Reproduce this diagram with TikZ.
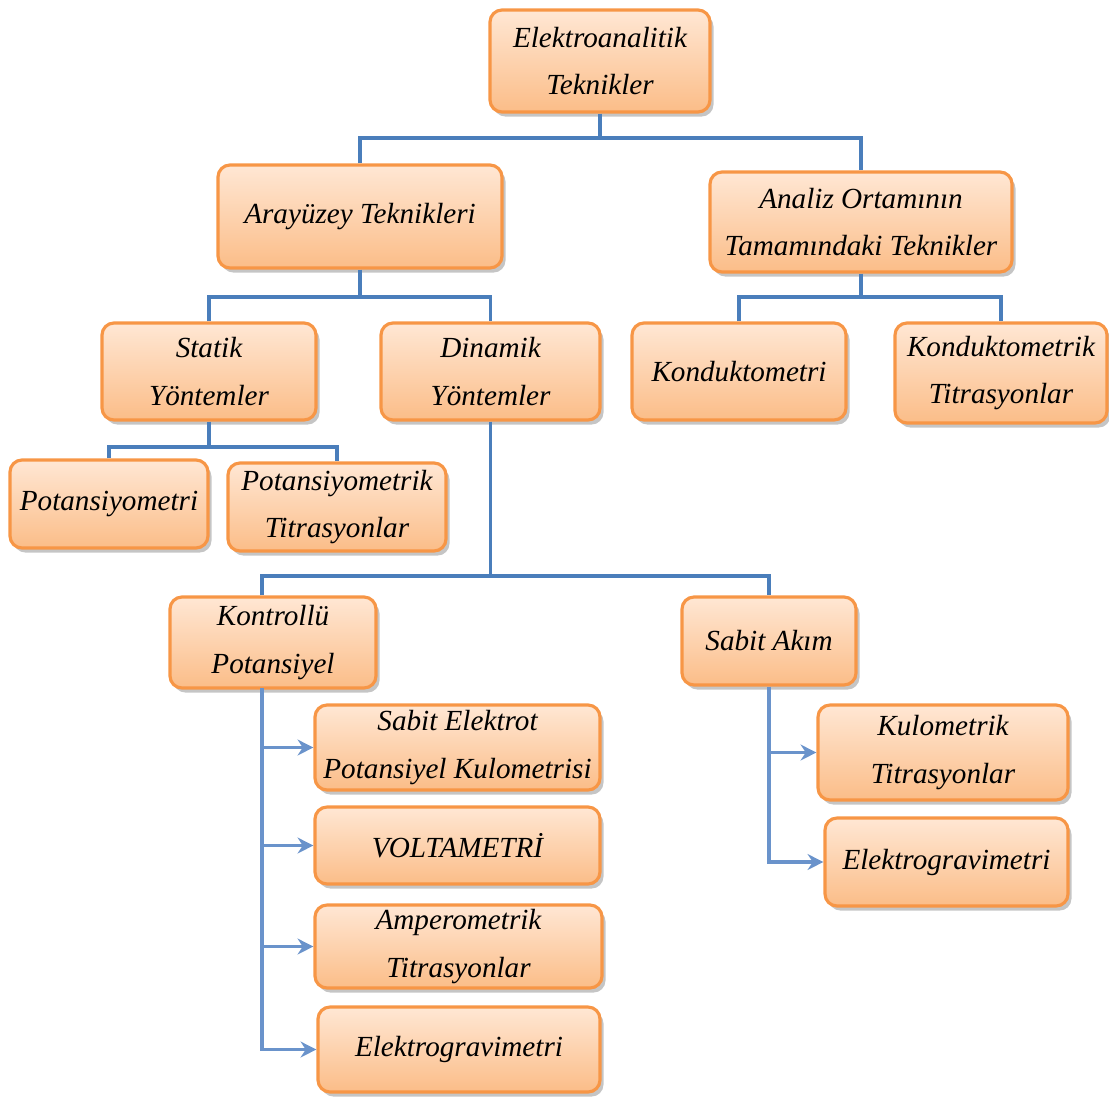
\documentclass[tikz,border=0pt]{standalone}
\usepackage{fontspec}
\setmainfont{Liberation Serif}
\usetikzlibrary{shadows,arrows.meta}

\definecolor{boxline}{HTML}{F79646}
\definecolor{boxtop}{HTML}{FFE7D4}
\definecolor{boxbot}{HTML}{FBBD88}
\definecolor{linkblue}{HTML}{4A7EBB}
\definecolor{arrowblue}{HTML}{6A93CB}

\begin{document}
\begin{tikzpicture}[
    box/.style={draw=boxline, line width=0.9pt, rounded corners=0.12cm,
      top color=boxtop, bottom color=boxbot, inner sep=0pt, align=center,
      drop shadow={shadow xshift=1pt, shadow yshift=-1.3pt, fill=black!45, opacity=0.5},
      font=\itshape\fontsize{8.3}{13.5}\selectfont},
    link/.style={draw=linkblue, line width=0.9pt},
    arr/.style={draw=arrowblue, line width=0.9pt, -{Stealth[length=4.5pt,width=4.5pt]}}]
  \useasboundingbox (0,0) rectangle (11.09,-10.97);

  \node [box, minimum width=2.20cm, minimum height=1.02cm] (elektro) at (6.00,-0.61) {Elektroanalitik\\Teknikler};

  \node [box, minimum width=2.84cm, minimum height=1.03cm] (arayuzey) at (3.60,-2.165) {Arayüzey Teknikleri};
  \node [box, minimum width=3.02cm, minimum height=1.00cm] (analiz) at (8.61,-2.22) {Analiz Ortamının\\Tamamındaki Teknikler};

  \node [box, minimum width=2.14cm, minimum height=0.97cm] (statik) at (2.09,-3.715) {Statik\\Yöntemler};
  \node [box, minimum width=2.19cm, minimum height=0.97cm] (dinamik) at (4.905,-3.715) {Dinamik\\Yöntemler};
  \node [box, minimum width=2.14cm, minimum height=0.97cm] (kondukto) at (7.39,-3.715) {Konduktometri};
  \node [box, minimum width=2.12cm, minimum height=1.00cm] (konduktotit) at (10.01,-3.73) {Konduktometrik\\Titrasyonlar};

  \node [box, minimum width=1.98cm, minimum height=0.88cm] (potans) at (1.09,-5.04) {Potansiyometri};
  \node [box, minimum width=2.18cm, minimum height=0.88cm] (potanstit) at (3.37,-5.07) {Potansiyometrik\\Titrasyonlar};

  \node [box, minimum width=2.06cm, minimum height=0.91cm] (kontrollu) at (2.73,-6.425) {Kontrollü\\Potansiyel};
  \node [box, minimum width=1.74cm, minimum height=0.88cm] (sabitakim) at (7.69,-6.41) {Sabit Akım};

  \node [box, minimum width=2.85cm, minimum height=0.85cm] (sabitelek) at (4.575,-7.475) {Sabit Elektrot\\Potansiyel Kulometrisi};
  \node [box, minimum width=2.85cm, minimum height=0.77cm] (volta) at (4.575,-8.455) {VOLTAMETRİ};
  \node [box, minimum width=2.87cm, minimum height=0.83cm] (ampero) at (4.585,-9.465) {Amperometrik\\Titrasyonlar};
  \node [box, minimum width=2.82cm, minimum height=0.85cm] (gravi) at (4.59,-10.495) {Elektrogravimetri};

  \node [box, minimum width=2.50cm, minimum height=0.95cm] (kulotit) at (9.43,-7.525) {Kulometrik\\Titrasyonlar};
  \node [box, minimum width=2.43cm, minimum height=0.88cm] (gravib) at (9.465,-8.62) {Elektrogravimetri};

  \coordinate (j1) at (6.00,-1.38);
  \coordinate (j2) at (3.60,-2.97);
  \coordinate (j3) at (8.61,-2.97);
  \coordinate (j4) at (2.09,-4.47);
  \coordinate (j5) at (4.905,-5.76);
  \coordinate (kl) at (2.62,-6.88);

  \draw [link] (elektro.south) -- (j1);
  \draw [link] (arayuzey.north) |- (j1) -| (analiz.north);

  \draw [link] (arayuzey.south) -- (j2);
  \draw [link] (statik.north) |- (j2) -| (dinamik.north);

  \draw [link] (analiz.south) -- (j3);
  \draw [link] (kondukto.north) |- (j3) -| (konduktotit.north);

  \draw [link] (statik.south) -- (j4);
  \draw [link] (potans.north) |- (j4) -| (potanstit.north);

  \draw [link] (dinamik.south) -- (j5);
  \draw [link] (kl |- kontrollu.north) |- (j5) -| (sabitakim.north);

  \draw [arr] (kl) |- (gravi.west);
  \draw [arr] (kl |- sabitelek.west) -- (sabitelek.west);
  \draw [arr] (kl |- volta.west) -- (volta.west);
  \draw [arr] (kl |- ampero.west) -- (ampero.west);

  \draw [arr] (sabitakim.south) |- (gravib.west);
  \draw [arr] (sabitakim.south |- kulotit.west) -- (kulotit.west);
\end{tikzpicture}
\end{document}
